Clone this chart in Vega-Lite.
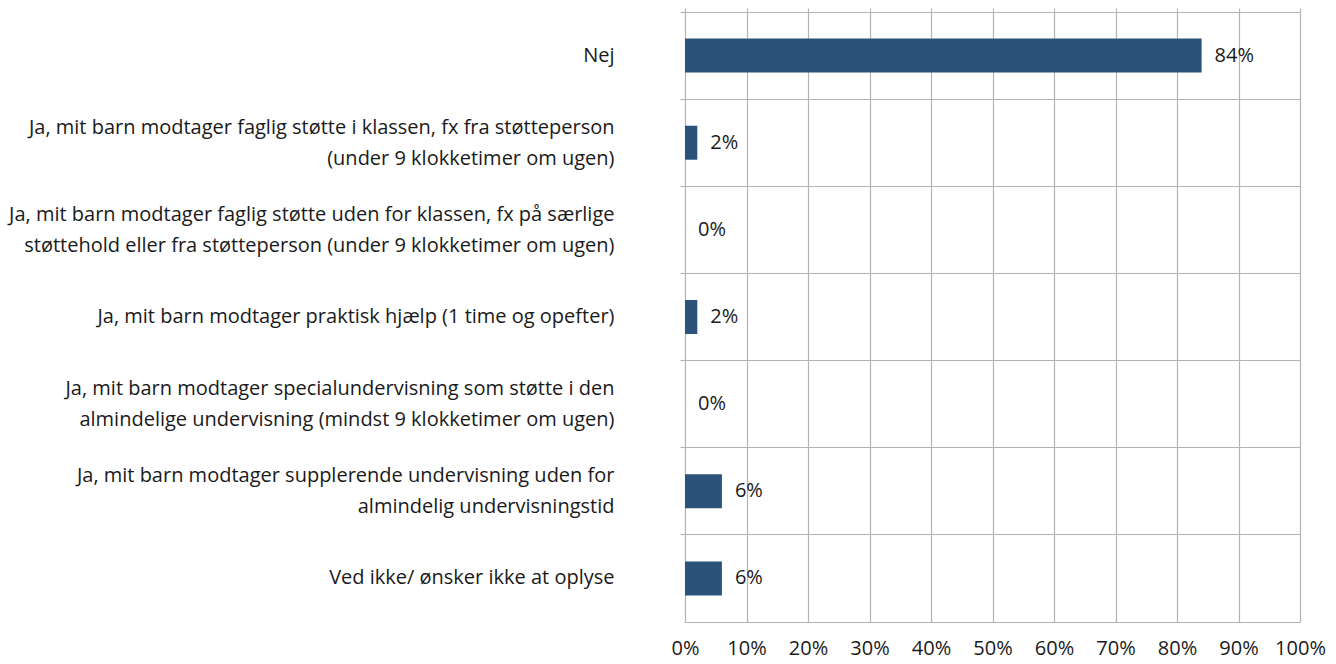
{
  "$schema": "https://vega.github.io/schema/vega-lite/v6.json",
  "width": 615,
  "height": 610,
  "autosize": {"type": "none"},
  "padding": {"left": 685, "top": 12, "right": 36, "bottom": 42},
  "background": "white",
  "config": {
    "view": {"stroke": null},
    "font": "Open Sans",
    "axis": {"labelFont": "Open Sans", "labelColor": "#1a1a1a", "labelFontSize": 20}
  },
  "data": {
    "values": [
      {"svar": "Nej", "andel": 0.84},
      {"svar": "Ja, mit barn modtager faglig støtte i klassen, fx fra støtteperson\n(under 9 klokketimer om ugen)", "andel": 0.02},
      {"svar": "Ja, mit barn modtager faglig støtte uden for klassen, fx på særlige\nstøttehold eller fra støtteperson (under 9 klokketimer om ugen)", "andel": 0.0},
      {"svar": "Ja, mit barn modtager praktisk hjælp (1 time og opefter)", "andel": 0.02},
      {"svar": "Ja, mit barn modtager specialundervisning som støtte i den\nalmindelige undervisning (mindst 9 klokketimer om ugen)", "andel": 0.0},
      {"svar": "Ja, mit barn modtager supplerende undervisning uden for\nalmindelig undervisningstid", "andel": 0.06},
      {"svar": "Ved ikke/ ønsker ikke at oplyse", "andel": 0.06}
    ]
  },
  "encoding": {
    "y": {
      "field": "svar",
      "type": "nominal",
      "sort": null,
      "scale": {"paddingInner": 0, "paddingOuter": 0},
      "axis": {
        "title": null,
        "domain": false,
        "grid": true,
        "gridColor": "#b3b3b3",
        "gridWidth": 1.2,
        "bandPosition": 0,
        "ticks": true,
        "tickSize": 5,
        "tickColor": "#b3b3b3",
        "tickWidth": 1.2,
        "labelPadding": 66,
        "labelAlign": "right",
        "labelLineHeight": 31,
        "labelOffset": {"condition": {"test": "indexof(datum.value, '\\n') >= 0", "value": -15}, "value": 0},
        "labelExpr": "split(datum.label, '\\n')",
        "labelLimit": 700
      }
    }
  },
  "layer": [
    {
      "mark": {"type": "bar", "color": "#2B5279", "height": {"band": 0.39}},
      "encoding": {
        "x": {
          "field": "andel",
          "type": "quantitative",
          "scale": {"domain": [0, 1], "nice": false},
          "axis": {
            "title": null,
            "values": [0, 0.1, 0.2, 0.3, 0.4, 0.5, 0.6, 0.7, 0.8, 0.9, 1],
            "format": ".0%",
            "grid": true,
            "gridColor": "#b3b3b3",
            "gridWidth": 1.2,
            "domainColor": "#b3b3b3",
            "domainWidth": 1.2,
            "ticks": false,
            "labelPadding": 16,
            "labelFontSize": 20,
            "labelOverlap": false,
            "labelFlush": false
          }
        }
      }
    },
    {
      "mark": {"type": "text", "align": "left", "baseline": "middle", "dx": 13, "fontSize": 20, "color": "#1a1a1a", "font": "Open Sans"},
      "encoding": {
        "x": {
          "field": "andel",
          "type": "quantitative",
          "axis": {
            "orient": "top",
            "title": null,
            "labels": false,
            "domain": false,
            "grid": false,
            "ticks": true,
            "tickSize": 4,
            "tickColor": "#b3b3b3",
            "tickWidth": 1.2,
            "values": [0, 0.1, 0.2, 0.3, 0.4, 0.5, 0.6, 0.7, 0.8, 0.9, 1]
          }
        },
        "text": {"field": "andel", "type": "quantitative", "format": ".0%"}
      }
    }
  ],
  "resolve": {"axis": {"x": "independent"}}
}
